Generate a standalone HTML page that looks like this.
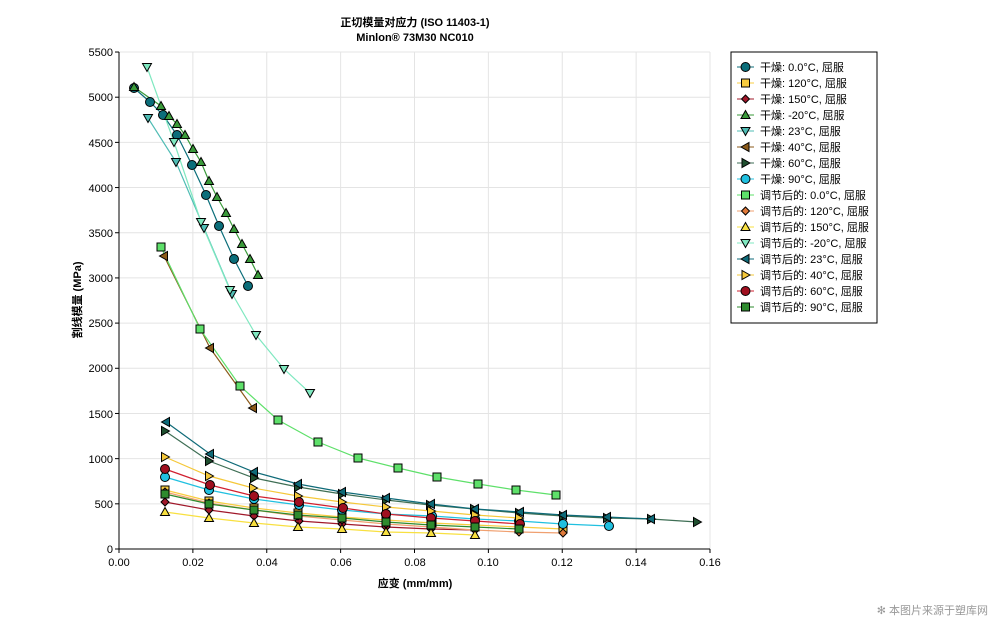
<!DOCTYPE html>
<html><head><meta charset="utf-8"><style>
body{margin:0;background:#fff;font-family:"Liberation Sans","Noto Sans CJK SC",sans-serif}
svg text{font-family:"Liberation Sans","Noto Sans CJK SC",sans-serif}
</style></head><body>
<svg id="s" width="1000" height="629" xmlns="http://www.w3.org/2000/svg">
<rect width="1000" height="629" fill="#fff"/>
<text x="415" y="26" font-size="11" font-weight="bold" text-anchor="middle">正切模量对应力 (ISO 11403-1)</text>
<text x="415" y="41" font-size="11" font-weight="bold" text-anchor="middle">Minlon® 73M30 NC010</text>
<text transform="translate(81,300) rotate(-90)" font-size="11" font-weight="bold" text-anchor="middle">割线模量 (MPa)</text>
<text x="415" y="587" font-size="11" font-weight="bold" text-anchor="middle">应变 (mm/mm)</text>
<g id="grid"></g>
<g id="series"></g>
<g font-size="11" text-anchor="end" id="yt">
<text x="113" y="553">0</text><text x="113" y="508">500</text><text x="113" y="463">1000</text><text x="113" y="418">1500</text><text x="113" y="372">2000</text><text x="113" y="327">2500</text><text x="113" y="282">3000</text><text x="113" y="237">3500</text><text x="113" y="192">4000</text><text x="113" y="147">4500</text><text x="113" y="101">5000</text><text x="113" y="56">5500</text>
</g>
<g font-size="11" text-anchor="middle">
<text x="119" y="566">0.00</text><text x="193" y="566">0.02</text><text x="267" y="566">0.04</text><text x="341" y="566">0.06</text><text x="415" y="566">0.08</text><text x="488" y="566">0.10</text><text x="562" y="566">0.12</text><text x="636" y="566">0.14</text><text x="710" y="566">0.16</text>
</g>
<rect x="731" y="52" width="146" height="271" fill="#fff" stroke="#000" stroke-width="1"/>
<g id="leg" font-size="11">
<text x="760" y="71">干燥: 0.0°C, 屈服</text>
<text x="760" y="87">干燥: 120°C, 屈服</text>
<text x="760" y="103">干燥: 150°C, 屈服</text>
<text x="760" y="119">干燥: -20°C, 屈服</text>
<text x="760" y="135">干燥: 23°C, 屈服</text>
<text x="760" y="151">干燥: 40°C, 屈服</text>
<text x="760" y="167">干燥: 60°C, 屈服</text>
<text x="760" y="183">干燥: 90°C, 屈服</text>
<text x="760" y="199">调节后的: 0.0°C, 屈服</text>
<text x="760" y="215">调节后的: 120°C, 屈服</text>
<text x="760" y="231">调节后的: 150°C, 屈服</text>
<text x="760" y="247">调节后的: -20°C, 屈服</text>
<text x="760" y="263">调节后的: 23°C, 屈服</text>
<text x="760" y="279">调节后的: 40°C, 屈服</text>
<text x="760" y="295">调节后的: 60°C, 屈服</text>
<text x="760" y="311">调节后的: 90°C, 屈服</text>
</g>
<text x="988" y="614" font-size="11" fill="#999" text-anchor="end">✻ 本图片来源于塑库网</text>
</svg>
<script>
var NS="http://www.w3.org/2000/svg";
function el(p,t,a){var e=document.createElementNS(NS,t);for(var k in a)e.setAttribute(k,a[k]);p.appendChild(e);return e;}
var g=document.getElementById('grid');
for(var i=0;i<=11;i++){var y=549-i*500*0.09036;el(g,'line',{x1:119,x2:710,y1:y,y2:y,stroke:'#e4e4e4'});el(g,'line',{x1:115,x2:119,y1:y,y2:y,stroke:'#000'});}
for(var i=0;i<=8;i++){var x=119+i*73.875;el(g,'line',{x1:x,x2:x,y1:52,y2:549,stroke:'#e4e4e4'});el(g,'line',{x1:x,x2:x,y1:549,y2:553,stroke:'#000'});}
el(g,'line',{x1:119,x2:119,y1:52,y2:549,stroke:'#000'});
el(g,'line',{x1:119,x2:710,y1:549,y2:549,stroke:'#000'});
function mk(p,sh,x,y,c){var a={fill:c,stroke:'#000','stroke-width':1};
 if(sh=='o'){a.cx=x;a.cy=y;a.r=4.5;el(p,'circle',a);}
 else if(sh=='s'){a.x=x-4;a.y=y-4;a.width=8;a.height=8;el(p,'rect',a);}
 else if(sh=='d'){a.points=[x,y-4,x+4,y,x,y+4,x-4,y].join(' ');el(p,'polygon',a);}
 else if(sh=='^'){a.points=[x,y-4.5,x+4.5,y+3.5,x-4.5,y+3.5].join(' ');el(p,'polygon',a);}
 else if(sh=='v'){a.points=[x,y+4.5,x+4.5,y-3.5,x-4.5,y-3.5].join(' ');el(p,'polygon',a);}
 else if(sh=='<'){a.points=[x-4.5,y,x+3.5,y-4.5,x+3.5,y+4.5].join(' ');el(p,'polygon',a);}
 else if(sh=='>'){a.points=[x+4.5,y,x-3.5,y-4.5,x-3.5,y+4.5].join(' ');el(p,'polygon',a);}}
var S=[
['o','#0b6e7a','#0b6e7a',[[134,88],[150,102],[163,115],[177,135],[192,165],[206,195],[219,226],[234,259],[248,286]]],
['s','#f8cc40','#f8cc40',[[165,490],[209,501],[254,508],[298,513],[342,517],[386,520],[432,523],[475,525],[519,527],[563,529]]],
['d','#a0182a','#a0182a',[[165,502],[209,510],[254,516],[299,521],[342,524],[386,527],[431,529],[475,530]]],
['^','#3a9a3a','#3a9a3a',[[134,87],[161,106],[169,116],[177,124],[185,135],[193,149],[201,162],[209,181],[217,197],[226,213],[234,229],[242,244],[250,259],[258,275]]],
['v','#4fbcb4','#4fbcb4',[[148,118],[176,162],[204,228],[232,294]]],
['<','#8b5a1a','#8b5a1a',[[164,256],[210,348],[253,408]]],
['>','#1f4f2f','#3e6e54',[[165,431],[209,461],[254,478],[298,487],[342,494],[386,500],[430,505],[474,509],[519,513],[563,516],[607,518],[651,519],[697,522]]],
['o','#20c0e0','#20c0e0',[[165,477],[209,490],[254,499],[299,505],[342,510],[386,514],[432,516],[475,519],[519,521],[563,524],[609,526]]],
['s','#5ee06a','#5ee06a',[[161,247],[200,329],[240,386],[278,420],[318,442],[358,458],[398,468],[437,477],[478,484],[516,490],[556,495]]],
['d','#e07a3a','#f0a070',[[165,492],[209,503],[254,510],[298,516],[342,520],[386,524],[431,527],[475,530],[519,532],[563,533]]],
['^','#f8e040','#f8e040',[[165,512],[209,518],[254,523],[298,527],[342,529],[386,532],[431,533],[475,535]]],
['v','#7fe8c0','#7fe8c0',[[147,67],[174,142],[201,222],[230,290],[256,335],[284,369],[310,393]]],
['<','#0e6a78','#0e6a78',[[166,422],[210,454],[254,472],[298,484],[342,492],[386,498],[431,504],[475,509],[520,512],[563,515],[607,517],[651,519]]],
['>','#f5c83a','#f5c83a',[[165,457],[209,476],[253,488],[298,496],[342,502],[386,507],[431,511],[475,515],[519,518]]],
['o','#a01020','#d02030',[[165,469],[210,485],[254,496],[299,502],[343,508],[386,514],[431,518],[475,521],[520,524]]],
['s','#2e8b2e','#2e8b2e',[[165,494],[209,504],[254,510],[298,515],[342,518],[386,522],[431,525],[475,527],[519,529]]]
];
var sg=document.getElementById('series');
S.forEach(function(s){el(sg,'polyline',{points:s[3].map(function(p){return p.join(',')}).join(' '),fill:'none',stroke:s[2],'stroke-width':1.2});});
S.forEach(function(s){s[3].forEach(function(p){mk(sg,s[0],p[0],p[1],s[1]);});});
var lg=document.getElementById('leg');
S.forEach(function(s,i){var y=67+i*16;el(lg,'line',{x1:737,x2:754,y1:y,y2:y,stroke:s[2]});mk(lg,s[0],745.5,y,s[1]);});
</script>
</body></html>
